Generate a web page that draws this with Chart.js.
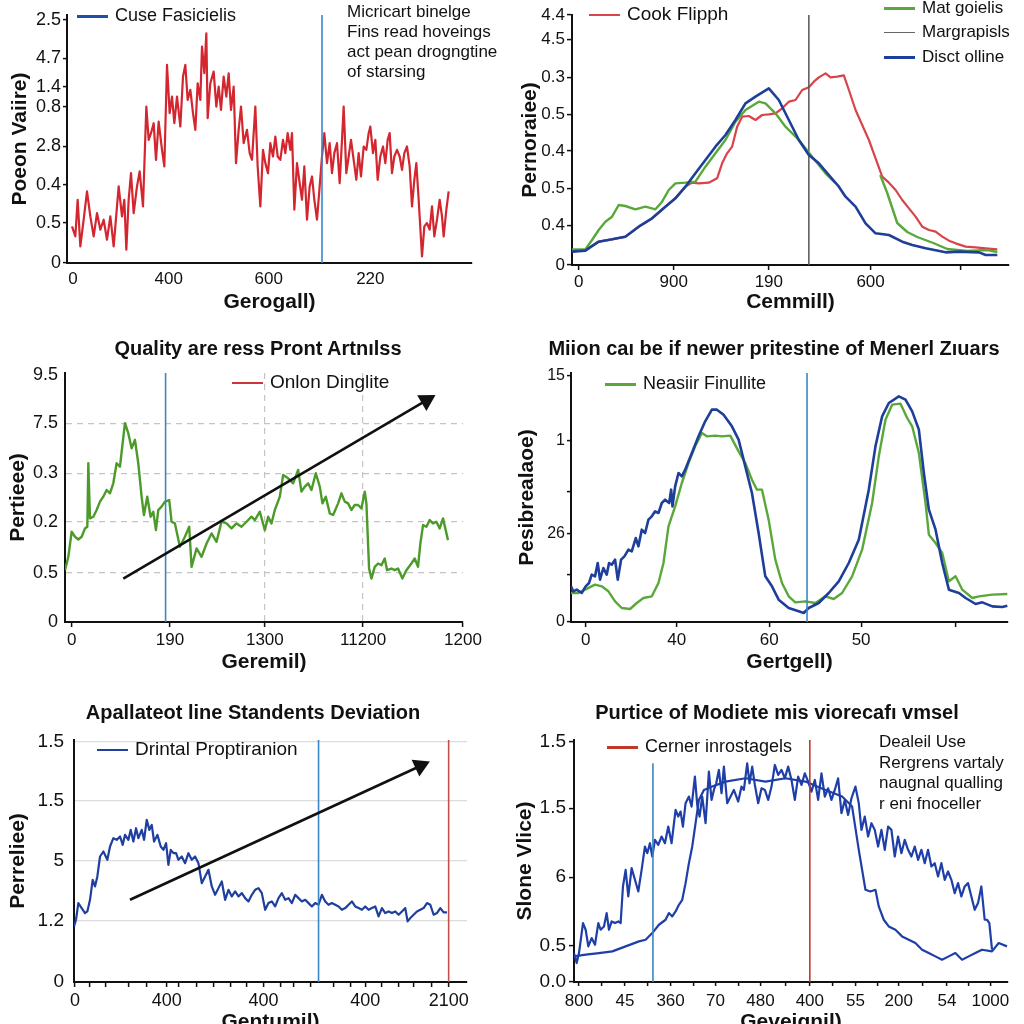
<!DOCTYPE html>
<html><head><meta charset="utf-8">
<script src="https://cdn.jsdelivr.net/npm/chart.js@4.4.1/dist/chart.umd.min.js"></script>
<style>
html,body{margin:0;padding:0;background:#fff;width:1024px;height:1024px;overflow:hidden;}
#wrap{position:relative;width:1024px;height:1024px;overflow:hidden;background:#fff;}
.tx{position:absolute;font-family:"Liberation Sans",Arial,sans-serif;color:#111;white-space:nowrap;}
.tx i{display:inline-block;vertical-align:middle;margin-right:7px;}
.ttl{font-weight:bold;font-size:20px;text-align:center;transform:translateX(-50%);}
</style></head><body><div id="wrap"></div>
<script>
// ---------------- DATA ----------------
// Panel 1 (top-left)
const p1Red = [[1.5,11],[2.5,8],[3.2,19],[4,5],[5,13],[6,21.5],[7,14],[8,8],[9,15],[10,10],[11,13],[12,7],[13,14],[14,5],[15,17],[15.5,23],[16.5,14],[17.2,19],[17.8,4],[18.5,19],[19.2,27],[20,15],[21,23],[21.8,27.5],[22.8,17],[23.8,47],[24.5,37],[25.2,39],[26,42],[26.7,31],[27.5,42.5],[28.5,34],[29.2,29],[30,59.5],[30.8,45],[31.5,50],[32.2,42],[33,50],[34,41],[34.8,56],[35.5,59.5],[36.2,49],[37,52],[37.8,45],[38.5,40],[39.2,54],[40,49],[40.5,65],[41.2,57],[41.8,69],[42.2,43.5],[43,54],[44,57.5],[44.8,47],[45.5,53],[46.2,46],[47,56],[47.8,50],[48.5,57],[49.2,46],[50,53],[50.7,30],[51.5,40],[52.2,47],[53,36],[54,40],[54.8,33],[55.5,31],[56.5,47],[57.2,29],[58,17],[58.8,34],[59.5,30],[60.3,27],[61,36],[61.8,32],[62.5,38],[63.2,32],[64,31],[64.8,37],[65.5,33],[66.2,39],[67,34],[67.5,39],[68.2,16],[69,30],[69.8,24],[70.5,19],[71.2,29],[72,13],[72.8,23],[73.5,26],[74.2,19],[75,13],[75.8,23],[76.5,32],[77.2,39],[78,30],[78.8,36],[79.5,27],[80.2,33],[81,36],[81.8,24],[82.5,37],[83,47],[83.8,27],[84.5,32],[85.2,37],[86,31],[86.8,25],[87.5,33],[88.2,26],[89,35],[89.8,34],[90.5,39],[91,41],[91.8,33],[92.5,37],[93.2,25],[94,32],[94.8,35],[95.5,30],[96.2,37],[96.8,39],[97.5,27],[98.2,32],[99,34],[99.8,32],[100.5,28],[101.2,33],[102,35],[102.8,29],[103.5,17],[104.2,25],[104.8,30],[105.5,19],[106.5,2],[107.2,11],[108,12],[108.8,10],[109.5,17],[110.2,8],[111,13],[111.8,19],[112.5,14],[113,8],[113.8,16],[114.5,21.5]];
const p1VLine = 76.5;
const p1YTicks = [0,12,23.5,35,47,53,61.5,73];
const p1YLabels = ['0','0.5','0.4','2.8','0.8','1.4','4.7','2.5'];
const p1XTicks = [1.8,30.5,60.5,91];
const p1XLabels = ['0','400','600','220'];

// Panel 2 (top-right)
const p2Red = [[0,4],[4,4.5],[8,7],[12,7.7],[16,8.5],[20,11.5],[24,14],[28,17.5],[31,20],[34,23.5],[36,24.7],[38,24.5],[41,24.7],[43.5,26],[45,30.5],[46.5,33.5],[48,35.5],[49.5,41.5],[51,44.5],[53,44.7],[55,43.5],[57,45],[59,45.2],[61,45.5],[63,47],[65,49],[67,49.5],[69,52.5],[71,53.3],[72.5,55],[74,56.3],[76,57.5],[77.5,56.3],[79.5,56.5],[81.5,56.9],[83,52.5],[85,46.5],[87,42],[89,37.5],[91,32],[93,26.5],[95,24.7],[97,22.5],[99,19.5],[101,17],[103,14.5],[105,11.5],[107,10.5],[109,10],[111,8.5],[113,7.3],[115,6.5],[118,5.5],[121,5.3],[124,5],[127.5,4.7]];
const p2Green = [[0,4.7],[4,4.7],[6,7.5],[8,10.5],[10,13],[12,14.5],[14,18],[16,17.7],[19,16.7],[22,17.5],[25,16.7],[27,19],[29,22.5],[31,24.5],[34,24.7],[37,25],[40,29.5],[43,33.5],[46,37.5],[49,43],[52,46.5],[56,49],[58,48.5],[61,45.5],[64,41.5],[68,37.5],[72,32.5],[76,27.5],[78.9,24.6],[85,null],[92.4,27],[94.5,21.6],[97.5,12.6],[100.5,9.9],[103.5,8.4],[108.3,6.6],[112.5,4.8],[118.5,4.2],[124.5,4.5],[127.5,3.9]];
const p2Blue = [[0,4],[4,4.3],[8,7],[12,7.7],[16,8.5],[20,11.5],[24,14],[28,17.5],[31,20],[34,23.5],[37,27.5],[40,31.5],[43,35.5],[46,39],[49,43.5],[52,48.5],[55,50.5],[59,53],[62,49.5],[65,43.5],[68,37.5],[71,33],[74,30.5],[77,27],[80,23.5],[82,20.5],[85,17.5],[88,12.5],[91,9.5],[95,9],[99,7],[102,6],[106,5],[112,3.8],[116,4],[122,3.8],[124,3],[127.5,3]];
const p2VLine = 71;
const p2YTicks = [0,11.9,23,34.2,45.2,56.3,67.7,75];
const p2YLabels = ['0','0.4','0.5','0.4','0.5','0.3','4.5','4.4'];
const p2XTicks = [2,30.5,59,89.5,116.5];
const p2XLabels = ['0','900','190','600',''];

// Panel 3 (middle-left)
const p3Green = [[0,15.5],[1,19.5],[2,27],[3,25.5],[4,24.7],[5,25.5],[6,28],[6.7,28.5],[7,47.5],[7.5,31],[8.5,31.5],[9.5,33.5],[10.5,36],[11.5,37.5],[12.5,39.5],[13.5,38.5],[14.5,41.5],[15.5,47.5],[16.5,46.5],[18,59.5],[19,56.5],[20,52],[21,54.5],[22,47.5],[23,37.5],[23.7,32],[24.7,37.5],[25.7,31.5],[26.5,33],[27.3,27.5],[28,33.5],[29,34.5],[30,36],[31.3,36.5],[32,30],[33,29.5],[34.5,22.5],[36,25.5],[37.3,28.5],[38,16.5],[39.5,22],[41,19.5],[42.5,23.5],[44,26.5],[45.5,24],[47,30],[48.5,29.5],[50,28],[51.5,29.5],[53,28.5],[54.5,30],[56,31.5],[57,30.5],[58.5,33],[60,27.5],[61,31.5],[62,29.5],[63,33.5],[64.5,37.5],[65.5,44],[67,43],[68.5,41.5],[70,45.5],[71,39],[72,40.5],[73,41.5],[74,39.5],[75.3,44.5],[76.5,40.5],[77.3,35.5],[78.3,37.5],[79.5,32.5],[80.5,32],[82,35.5],[83,38.5],[84,36],[85,35.5],[86,33.5],[87,35],[88,35],[89,34],[90,39],[90.5,35.5],[91.3,16],[92,13],[93,16.5],[94,17.5],[95,17],[96,19],[96.7,15.5],[98,16],[99,15.5],[100,16],[101.3,13],[102.5,15.5],[104,17.5],[105,19],[106,16.5],[106.7,23.5],[107.5,29],[108.5,28.5],[109.5,30.5],[110.5,29.5],[111.5,30],[112.5,28],[113.5,31],[115,24.5]];
const p3VLine = 30.2;
const p3Arrow = [[17.5,13],[108.5,66.3]];
const p3YTicks = [0,14.8,29.9,44.5,59.5,74];
const p3YLabels = ['0','0.5','0.2','0.3','7.5','9.5'];
const p3XTicks = [2,31.5,60,89.5,119.5];
const p3XLabels = ['0','190','1300','11200','1200'];

// Panel 4 (middle-right)
const p4Green = [[0,8.7],[2.2,8.7],[4.2,9.7],[7.2,11.2],[9.2,10.7],[11.2,9.2],[13.2,6.2],[15.2,4.2],[17.7,3.9],[19.7,5.7],[21.7,7.2],[24.2,7.7],[26.2,11.7],[27.7,17.7],[29.2,28.7],[31.2,34.7],[33.2,41.7],[35.2,47.7],[37.2,52.7],[39.2,56.7],[40.7,55.7],[43.2,55.9],[45.2,55.7],[47.7,55.9],[50.2,51.2],[52.2,47.7],[54.2,42.7],[55.7,39.7],[57.2,39.7],[59.2,30.7],[61.2,18.7],[63.2,11.7],[65.2,7.7],[67.2,5.9],[70.2,6.2],[73.2,5.7],[76.2,7.7],[78.7,6.9],[81.2,8.7],[84.2,13.7],[87.2,21.7],[90.2,35.7],[92.2,49.7],[94.2,60.7],[96.2,65.2],[98.7,65.5],[100.7,61.2],[102.2,58.7],[104.2,50.7],[106.2,35.7],[107.2,26.2],[109.2,23.7],[111.2,20.7],[113.2,12.2],[115.2,13.7],[117.2,9.7],[120.2,7.2],[122.2,7.7],[126.2,8.2],[130.7,8.4]];
const p4Blue = [[0,10.7],[0.7,9.2],[1.7,9.7],[3.2,8.7],[4.4,10.7],[5.4,11.7],[6.2,14.2],[7.2,13.7],[8,17.7],[8.7,12.7],[9.7,16.2],[10.7,14.2],[11.4,17.7],[12.2,17.2],[13.2,18.7],[14,12.7],[15,18.7],[16,19.7],[17.2,21.7],[18.2,21.2],[19.4,25.2],[20.2,22.7],[21.2,27.7],[22.2,26.7],[23.2,30.7],[24.2,31.7],[25.2,33.2],[26.2,32.7],[27.2,35.7],[28.2,36.7],[29.4,35.7],[30,39.7],[30.4,34.7],[31.2,40.7],[32.2,44.7],[33.2,43.7],[34.2,45.7],[36.2,50.7],[38.2,55.7],[40.2,60.2],[42.2,63.7],[43.7,63.7],[45.7,62.2],[48.2,58.7],[50.2,54.7],[52.2,46.7],[54.2,38.7],[56.2,26.7],[58.2,13.7],[60.2,10.7],[62.2,6.7],[65.2,4.2],[68.2,3.2],[69.7,2.7],[71.2,4.2],[74.2,5.7],[77.2,8.7],[80.2,12.2],[83.2,17.7],[86.2,24.7],[89.2,39.7],[91.2,52.7],[93.2,61.7],[95.2,65.7],[98.2,67.7],[100.2,66.7],[102.2,63.2],[104.2,57.7],[105.7,44.7],[107.2,33.7],[109.2,27.7],[111.2,17.7],[113.2,9.7],[116.2,8.7],[118.2,7.2],[121.2,5.4],[123.2,5.9],[126.2,4.7],[129.2,4.5],[130.7,4.9]];
const p4VLine = 70.7;
const p4YTicks = [0,14.2,26.5,39,54.4,74];
const p4YLabels = ['0','','26','','1','15'];
const p4XTicks = [4.4,31.7,59.4,86.9,115.2];
const p4XLabels = ['0','40','60','50',''];

// Panel 5 (bottom-left)
const p5Blue = [[0,16.7],[0.6,18.7],[1.3,23.7],[2.3,22.2],[3.3,20.7],[4,21.2],[4.8,24.7],[5.6,30.7],[6.3,28.7],[7,31.7],[7.8,37.7],[8.8,39.2],[10,36.7],[10.8,40.7],[11.8,43.2],[12.8,42.7],[13.8,43.7],[14.6,41.2],[15.3,44.2],[16.3,42.7],[17,45.7],[17.8,42.2],[18.6,46.2],[19.3,43.2],[20.3,45.7],[21,42.7],[21.8,48.7],[22.6,45.7],[23.3,47.2],[24,42.2],[25,44.2],[26,40.7],[26.8,39.7],[27.6,41.7],[28.3,35.2],[29,39.7],[29.8,38.7],[30.6,38.7],[31.3,36.7],[32.3,37.7],[33.3,35.7],[34.3,38.7],[35.3,36.7],[36.3,37.7],[37.3,35.7],[38.3,29.7],[39.3,31.7],[40.3,33.7],[41.3,28.7],[42.3,26.2],[43.3,28.2],[44.3,30.2],[45.3,24.7],[46.3,27.7],[47.3,25.7],[48.3,27.2],[49.3,25.7],[50.3,26.7],[51.3,25.2],[52.3,24.2],[53.3,26.2],[54.3,27.7],[55.3,28.2],[56.3,26.7],[57.3,21.7],[58.3,23.7],[59.3,24.2],[60.3,22.7],[61.3,25.2],[62.3,26.7],[63.3,24.7],[64.3,25.2],[65.3,23.7],[66.3,26.2],[67.3,25.2],[68.3,24.2],[69.3,24.7],[70.3,23.7],[71.3,22.7],[72.3,23.7],[73.3,23.2],[74.3,26.2],[75.3,24.2],[76.3,23.2],[77.3,23.7],[78.3,23.2],[79.3,22.7],[80.3,21.7],[81.3,22.2],[82.3,23.2],[83.3,24.2],[84.3,22.7],[85.3,22.2],[86.3,21.7],[87.3,22.7],[88.3,21.7],[89.3,22.2],[90.3,22.7],[91.3,19.7],[92.3,22.2],[93.3,20.7],[94.3,21.2],[95.3,20.7],[96.3,21.2],[97.3,20.2],[98.3,21.2],[99.3,22.2],[100,18.2],[100.8,19.2],[101.8,20.2],[102.8,21.2],[103.8,21.7],[104.8,22.2],[105.8,23.7],[106.8,23.2],[107.8,20.2],[108.8,20.7],[109.8,22.2],[110.8,20.9],[111.8,20.9]];
const p5VLineBlue = 73.3;
const p5VLineRed = 112.3;
const p5Arrow = [[16.8,24.7],[103.8,64.9]];
const p5YTicks = [0,18.4,36.4,54.4,72.2];
const p5YLabels = ['0','1.2','5','1.5','1.5'];
const p5XTicks = [0.3,4.8,9.6,16.3,21.8,27.8,31.3,36.8,41.8,46.8,51.8,56.8,61.8,65.8,70.8,77.8,82.8,87.3,92.3,97.3,101.8,107.3,112.3];
const p5XLabels = ['0','','','','','400','','','','','','400','','','','','','400','','','','','2100'];

// Panel 6 (bottom-right)
const p6Upper = [[0,8.7],[0.8,5.7],[1.5,8.7],[2.7,17.7],[3.5,15.7],[4.3,10.7],[5.3,13.2],[6.3,11.2],[7.3,17.7],[8,15.7],[9,16.7],[9.8,20.7],[10.5,15.7],[11.3,18.2],[12.3,17.7],[13.3,18.2],[14,17.7],[14.7,28.7],[15.5,33.7],[16.3,25.7],[17.3,34.2],[18.3,30.7],[19.3,27.2],[20.3,33.7],[21.3,40.7],[22,38.7],[22.8,41.7],[23.5,37.7],[24.3,42.7],[25.3,41.2],[26.3,43.7],[27.3,41.7],[28.3,46.7],[29.3,41.7],[30.5,51.7],[31.3,49.7],[32,51.2],[32.7,46.7],[33.5,53.7],[34.5,55.7],[35.3,52.7],[36.3,61.7],[37,53.2],[37.7,49.7],[38.5,55.7],[39.5,47.7],[40.5,63.2],[41.3,54.7],[42,57.7],[42.7,59.7],[43.5,63.7],[44.3,56.7],[45,64.7],[46,53.7],[47,55.7],[48,57.7],[49.3,54.2],[50.3,58.7],[51,57.7],[52,65.7],[52.7,59.7],[53.5,64.7],[54.3,59.2],[55.3,53.7],[56.3,58.2],[57.3,57.7],[58.3,54.7],[59.3,58.7],[60.3,65.2],[61.3,62.2],[62.3,63.7],[63.3,61.2],[64.3,64.7],[65.3,60.7],[66.3,54.7],[67.3,61.7],[68.3,59.2],[69.3,62.7],[70.3,60.2],[71.3,57.2],[72.3,60.7],[73.3,54.7],[74.3,62.7],[75.3,55.7],[76.3,58.2],[77.3,54.7],[78.3,57.7],[79.3,61.2],[80.3,50.7],[81.3,54.7],[82.3,50.2],[83.3,55.2],[84.5,58.7],[85.5,53.7],[86.3,45.7],[87.3,49.7],[88.3,43.7],[89.3,47.7],[90.3,45.7],[91.3,40.7],[92.3,45.7],[93.3,39.7],[94.3,46.7],[95.3,45.7],[96.3,37.7],[97.3,43.7],[98.3,38.7],[99.3,42.7],[100.3,39.7],[101.3,37.7],[102.3,40.7],[103.3,36.7],[104.3,39.7],[105.3,35.7],[106.3,39.7],[107.3,34.7],[108.3,35.7],[109.3,31.7],[110.3,35.7],[111.3,30.7],[112.3,33.2],[113.3,30.7],[114.3,26.7],[115.3,29.7],[116.3,25.7],[117.3,28.7],[118.3,29.7],[119.3,25.7],[120.3,21.7],[121.3,23.7],[122.3,28.7],[123.3,18.7],[124,18.7],[124.7,17.7],[125.5,9.7]];
const p6Lower = [[0,7.7],[3.5,8.2],[7.5,8.7],[11.5,9.2],[15.5,10.7],[19.5,12.2],[21.5,12.7],[23.5,14.7],[25.5,17.2],[27.5,18.7],[28.5,20.7],[29.5,19.7],[30.5,21.2],[31.5,23.2],[32.5,24.7],[33.5,29.7],[34.5,35.7],[35.5,40.7],[36.5,47.7],[37.5,54.7],[39,57.7],[41.5,58.7],[45.5,60.2],[51.5,61.2],[57.5,60.2],[63.5,61.2],[69.5,60.2],[75.5,57.7],[80.5,55.7],[83.5,52.7],[85.5,39.7],[87.5,27.7],[89,27.2],[90.5,27.7],[91.5,22.7],[93,18.7],[94.5,16.7],[96.5,15.7],[98.5,13.7],[100.5,12.7],[102.5,11.7],[104.5,9.7],[106.5,8.7],[108.5,7.7],[110.5,6.7],[112.5,7.7],[114.5,8.7],[116.5,6.7],[118.5,7.7],[120.5,8.7],[122.5,9.7],[125.5,9.2],[127.5,11.7],[130,10.7]];
const p6VLineBlue = [23.7, 65.7];
const p6VLineRed = [70.8, 72.7];
const p6YTicks = [0,10.9,31.5,52.2,72.2];
const p6YLabels = ['0.0','0.5','6','1.5','1.5'];
const p6XTicks = [1.5,8.4,15.3,22.2,29,35.8,42.5,49.3,56,63.4,70.8,77.7,84.5,91,97.5,104.8,112,118.5,125];
const p6XLabels = ['800','','45','','360','','70','','480','','400','','55','','200','','54','','1000'];

// ---------------- RENDERING ----------------
Chart.defaults.font.family = '"Liberation Sans", Arial, sans-serif';
Chart.defaults.color = '#111';
const wrap = document.getElementById('wrap');
const pts = a => a.map(p => ({x: p[0], y: p[1]}));
const series = (data, color, width) => ({data: pts(data), borderColor: color, borderWidth: width, pointRadius: 0, tension: 0, fill: false, spanGaps: false, borderJoinStyle: 'round'});
const vline = (x, top, color, width) => ({data: [{x: x, y: 0}, {x: x, y: top}], borderColor: color, borderWidth: width, pointRadius: 0, fill: false});
const arrow = (a, rot) => ({data: pts(a), borderColor: '#111', backgroundColor: '#111', borderWidth: 2.6, pointRadius: [0, 8], pointStyle: 'triangle', rotation: [0, rot], pointBackgroundColor: '#111', pointBorderColor: '#111', fill: false, clip: false});

function text(html, x, y, cls, style) {
  const d = document.createElement('div');
  d.className = 'tx ' + (cls || '');
  d.style.left = x + 'px'; d.style.top = y + 'px';
  if (style) d.style.cssText += style;
  d.innerHTML = html;
  wrap.appendChild(d);
}
function legend(x, y, color, lw, label, size) {
  text('<i style="width:31px;height:' + lw + 'px;background:' + color + '"></i>' + label, x, y - 12, '', 'font-size:' + size + 'px;line-height:24px;');
}

function axis(ticksPos, labels, o) {
  return {
    type: 'linear', min: 0, max: o.max, position: o.pos,
    afterBuildTicks: s => { s.ticks = ticksPos.map(v => ({value: v})); },
    afterFit: s => { if (o.pos === 'left') s.width = o.size; else s.height = o.size; },
    ticks: {autoSkip: false, maxRotation: 0, minRotation: 0, padding: o.pad, font: {size: o.font}, color: '#111',
      callback: (v, i) => labels[i]},
    grid: {display: true, drawOnChartArea: !!o.gridVals, drawTicks: o.tick > 0, tickLength: o.tick, tickColor: '#111', tickWidth: 1.5,
      color: c => (o.gridVals && c.tick && o.gridVals.includes(c.tick.value)) ? o.gridColor : 'rgba(0,0,0,0)', lineWidth: 1.2},
    border: {display: true, color: '#111', width: 2, dash: o.dash || []},
    title: {display: true, text: o.title, color: '#111', font: {size: 21, weight: 'bold'},
      padding: o.pos === 'left' ? {top: o.tpad, bottom: 0} : {top: 0, bottom: o.tpad}}
  };
}

function panel(p) {
  const c = document.createElement('canvas');
  c.width = p.box.w; c.height = p.box.h;
  c.style.cssText = 'position:absolute;left:' + p.box.x + 'px;top:' + p.box.y + 'px;width:' + p.box.w + 'px;height:' + p.box.h + 'px;';
  wrap.appendChild(c);
  const yW = p.plot.l - p.box.x, xH = p.box.y + p.box.h - p.plot.b;
  new Chart(c, {
    type: 'line',
    data: {datasets: p.datasets},
    options: {
      responsive: false, animation: false, events: [],
      layout: {padding: {left: 0, right: p.box.x + p.box.w - p.plot.r, top: p.plot.t - p.box.y, bottom: 0}},
      plugins: {legend: {display: false}, tooltip: {enabled: false}, title: {display: false}},
      scales: {
        x: axis(p.xTicks, p.xLabels, Object.assign({pos: 'bottom', size: xH}, p.x)),
        y: axis(p.yTicks, p.yLabels, Object.assign({pos: 'left', size: yW}, p.y))
      }
    }
  });
}

const BLUE_V = '#3a86c8';

// Panel 1
panel({box: {x: 0, y: 0, w: 512, h: 325}, plot: {l: 67, t: 15, r: 472, b: 263},
  xTicks: p1XTicks, xLabels: p1XLabels, yTicks: p1YTicks, yLabels: p1YLabels,
  x: {max: 121.5, tick: 0, pad: 6, font: 17, title: 'Gerogall)', tpad: 10.4},
  y: {max: 74.5, tick: 4, pad: 2, font: 18, title: 'Poeon Vaiire)', tpad: 7.4},
  datasets: [vline(p1VLine, 75, BLUE_V, 1.6), series(p1Red, '#d3262f', 2.2)]});
legend(77, 15, '#1f4fa8', 2.5, 'Cuse Fasicielis', 18);
text('Micricart binelge<br>Fins read hoveings<br>act pean drogngtine<br>of starsing', 347, 2, '', 'font-size:17px;line-height:20px;background:#fff;');

// Panel 2
panel({box: {x: 512, y: 0, w: 512, h: 325}, plot: {l: 572, t: 15, r: 1009, b: 265},
  xTicks: p2XTicks, xLabels: p2XLabels, yTicks: p2YTicks, yLabels: p2YLabels,
  x: {max: 131, tick: 5, pad: 2, font: 17, title: 'Cemmill)', tpad: 10.4},
  y: {max: 75, tick: 5, pad: 2, font: 17, title: 'Pernoraiee)', tpad: 5.4},
  datasets: [series(p2Blue, '#1d3f9a', 2.6), series(p2Green, '#5aa83a', 2.4), vline(p2VLine, 75, '#555', 1.5), series(p2Red, '#d9434a', 2.2)]});
legend(589, 14, '#d9434a', 2.5, 'Cook Flipph', 19);
legend(884, 8, '#5aa83a', 2.5, 'Mat goielis', 17);
legend(884, 32, '#666', 1.5, 'Margrapisls', 17);
legend(884, 57, '#1d3f9a', 3, 'Disct olline', 17);

// Panel 3
panel({box: {x: 0, y: 330, w: 512, h: 352}, plot: {l: 65, t: 373, r: 463, b: 622},
  xTicks: p3XTicks, xLabels: p3XLabels, yTicks: p3YTicks, yLabels: p3YLabels,
  x: {max: 119.5, tick: 5, pad: 3, font: 17, title: 'Geremil)', tpad: 7.4, gridVals: [60, 89.5], gridColor: '#c4c4c4', dash: [6, 5]},
  y: {max: 74.5, tick: 0, pad: 7, font: 18, title: 'Pertieee)', tpad: 5.4, gridVals: [14.8, 29.9, 44.5, 59.5], gridColor: '#c4c4c4', dash: [6, 5]},
  datasets: [arrow(p3Arrow, 59.6), vline(p3VLine, 74.5, BLUE_V, 1.6), series(p3Green, '#4c9a2a', 2.4)]});
text('Quality are ress Pront Artnılss', 258, 336, 'ttl', 'line-height:24px;');
legend(232, 382, '#c8373a', 2, 'Onlon Dinglite', 19);

// Panel 4
panel({box: {x: 512, y: 330, w: 512, h: 352}, plot: {l: 571, t: 373, r: 1008, b: 622},
  xTicks: p4XTicks, xLabels: p4XLabels, yTicks: p4YTicks, yLabels: p4YLabels,
  x: {max: 130.9, tick: 5, pad: 3, font: 17, title: 'Gertgell)', tpad: 7.4},
  y: {max: 74.7, tick: 4, pad: 2, font: 16, title: 'Pesibrealaoe)', tpad: 2.4},
  datasets: [vline(p4VLine, 74.7, BLUE_V, 1.6), series(p4Blue, '#1d3f9a', 2.6), series(p4Green, '#5aa83a', 2.4)]});
text('Miion caı be if newer pritestine of Menerl Zıuars', 774, 336, 'ttl', 'line-height:24px;');
legend(605, 383, '#5aa83a', 2.5, 'Neasiir Finullite', 18);

// Panel 5
panel({box: {x: 0, y: 690, w: 512, h: 348}, plot: {l: 74, t: 740, r: 467, b: 982},
  xTicks: p5XTicks, xLabels: p5XLabels, yTicks: p5YTicks, yLabels: p5YLabels,
  x: {max: 117.8, tick: 5, pad: 3, font: 18, title: 'Gentumil)', tpad: 3.4},
  y: {max: 72.7, tick: 0, pad: 10, font: 19, title: 'Perreliee)', tpad: 5.4, gridVals: [18.4, 36.4, 54.4, 72.2], gridColor: '#dcdcdc'},
  datasets: [arrow(p5Arrow, 65.2), vline(p5VLineBlue, 72.7, BLUE_V, 1.6), vline(p5VLineRed, 72.7, '#c0504d', 1.6), series(p5Blue, '#1f3f9f', 2.2)]});
text('Apallateot line Standents Deviation', 253, 700, 'ttl', 'line-height:24px;');
legend(97, 749, '#1f3f9f', 2.5, 'Drintal Proptiranion', 19);

// Panel 6
panel({box: {x: 512, y: 690, w: 512, h: 348}, plot: {l: 574, t: 740, r: 1008, b: 982},
  xTicks: p6XTicks, xLabels: p6XLabels, yTicks: p6YTicks, yLabels: p6YLabels,
  x: {max: 130.3, tick: 4, pad: 5, font: 17, title: 'Geveignil)', tpad: 3.4},
  y: {max: 72.7, tick: 5, pad: 3, font: 19, title: 'Slone Vlice)', tpad: 0.4},
  datasets: [vline(p6VLineBlue[0], p6VLineBlue[1], BLUE_V, 1.6), vline(p6VLineRed[0], p6VLineRed[1], '#c0392b', 1.6), series(p6Upper, '#1f3fa8', 2.2), series(p6Lower, '#1f3fa8', 2.2)]});
text('Purtice of Modiete mis viorecafı vmsel', 777, 700, 'ttl', 'line-height:24px;');
legend(607, 746, '#c0392b', 2.5, 'Cerner inrostagels', 18);
text('Dealeil Use<br>Rergrens vartaly<br>naugnal qualling<br>r eni fnoceller', 879, 732, '', 'font-size:17px;line-height:20.5px;');
</script></body></html>
